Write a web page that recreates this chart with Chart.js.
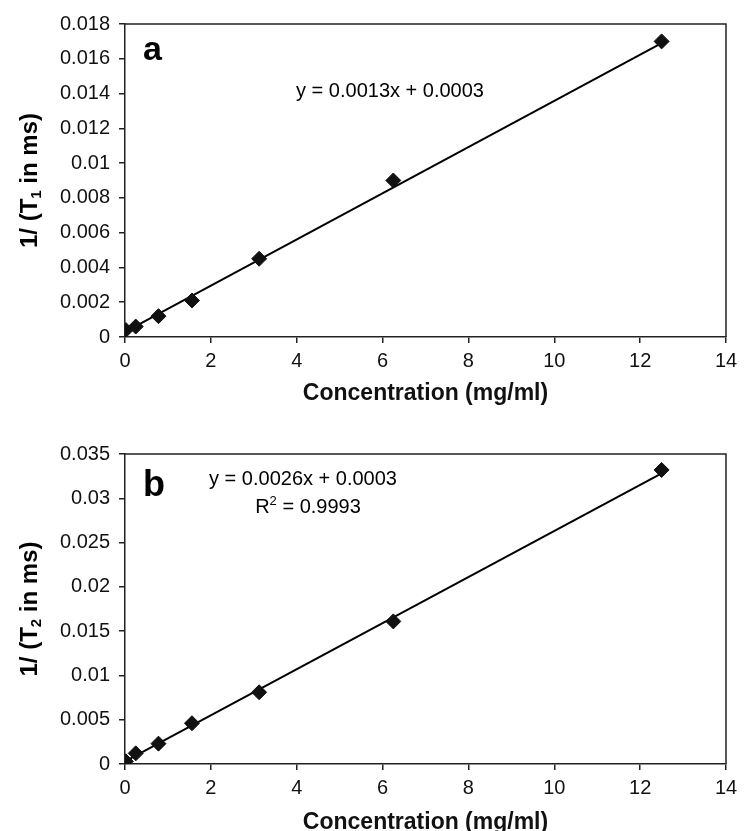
<!DOCTYPE html>
<html>
<head>
<meta charset="utf-8">
<script src="https://cdn.jsdelivr.net/npm/chart.js@4/dist/chart.umd.min.js"></script>
<style>
  html, body { margin: 0; padding: 0; background: #fff; }
  #wrapA { position: absolute; left: 0; top: 0; width: 750px; height: 415px; }
  #wrapB { position: absolute; left: 0; top: 415px; width: 750px; height: 416px; }
</style>
</head>
<body>
<div id="wrapA"><canvas id="chartA" width="750" height="415"></canvas></div>
<div id="wrapB"><canvas id="chartB" width="750" height="416"></canvas></div>
<script>
// ---- data ----
const concentrations = [0.02, 0.25, 0.78, 1.56, 3.125, 6.25, 12.5];
const invT1 = [0.0004, 0.0006, 0.0012, 0.0021, 0.0045, 0.009, 0.017];
const invT2 = [0.0003, 0.0012, 0.0023, 0.0046, 0.0081, 0.0161, 0.0332];
const fitX = [0, 12.5];
const fitT1 = [0.0003, 0.0169];
const fitT2 = [0.0003, 0.0328];
const xTicks = [0, 2, 4, 6, 8, 10, 12, 14];
const xTickLabels = ['0', '2', '4', '6', '8', '10', '12', '14'];
const yTicksA = [0, 0.002, 0.004, 0.006, 0.008, 0.01, 0.012, 0.014, 0.016, 0.018];
const yTickLabelsA = ['0', '0.002', '0.004', '0.006', '0.008', '0.01', '0.012', '0.014', '0.016', '0.018'];
const yTicksB = [0, 0.005, 0.01, 0.015, 0.02, 0.025, 0.03, 0.035];
const yTickLabelsB = ['0', '0.005', '0.01', '0.015', '0.02', '0.025', '0.03', '0.035'];
const xTitle = 'Concentration (mg/ml)';
const eqA = 'y = 0.0013x + 0.0003';
const eqB = 'y = 0.0026x + 0.0003';
const r2B = '0.9993';

const FONT = '"Liberation Sans", Arial, Helvetica, sans-serif';

function pts(xs, ys) { return xs.map((x, i) => ({ x: x, y: ys[i] })); }

function makeDecor(cfg) {
  return {
    id: 'decor' + cfg.letter,
    afterDraw(chart) {
      const ctx = chart.ctx;
      const a = chart.chartArea;
      ctx.save();
      // frame top & right
      ctx.strokeStyle = '#222';
      ctx.lineWidth = 1.5;
      ctx.beginPath();
      ctx.moveTo(a.left, a.top);
      ctx.lineTo(a.right, a.top);
      ctx.lineTo(a.right, a.bottom);
      ctx.stroke();
      // panel letter
      ctx.fillStyle = '#000';
      ctx.font = 'bold ' + cfg.letterSize + 'px ' + FONT;
      ctx.textAlign = 'left';
      ctx.textBaseline = 'alphabetic';
      ctx.fillText(cfg.letter, cfg.letterX, cfg.letterY);
      // equations
      ctx.font = '20px ' + FONT;
      ctx.textAlign = 'center';
      ctx.fillText(cfg.eq, cfg.eqX, cfg.eqY);
      if (cfg.r2) {
        const big = '20px ' + FONT, small = '13px ' + FONT;
        ctx.font = big;
        const wR = ctx.measureText('R').width;
        const wRest = ctx.measureText(' = ' + cfg.r2).width;
        ctx.font = small;
        const w2 = ctx.measureText('2').width;
        let x = cfg.r2X - (wR + w2 + wRest) / 2;
        ctx.textAlign = 'left';
        ctx.font = big;
        ctx.fillText('R', x, cfg.r2Y); x += wR;
        ctx.font = small;
        ctx.fillText('2', x, cfg.r2Y - 8); x += w2;
        ctx.font = big;
        ctx.fillText(' = ' + cfg.r2, x, cfg.r2Y);
      }
      // y title with subscript
      const cy = (a.top + a.bottom) / 2;
      ctx.translate(cfg.yTitleX, cy);
      ctx.rotate(-Math.PI / 2);
      const bigB = 'bold 24px ' + FONT, smallB = 'bold 15px ' + FONT;
      ctx.font = bigB;
      const p1 = '1/ (T', p3 = ' in ms)';
      const w1 = ctx.measureText(p1).width, w3 = ctx.measureText(p3).width;
      ctx.font = smallB;
      const wS = ctx.measureText(cfg.sub).width;
      let x = -(w1 + wS + w3) / 2;
      ctx.textAlign = 'left';
      ctx.font = bigB;
      ctx.fillText(p1, x, 0); x += w1;
      ctx.font = smallB;
      ctx.fillText(cfg.sub, x, 4); x += wS;
      ctx.font = bigB;
      ctx.fillText(p3, x, 0);
      ctx.restore();
    }
  };
}

function makeChart(canvasId, yVals, fitY, yTicks, yLabels, yMax, padTop, xHeight, titlePadBottom, titleLH, decor) {
  return new Chart(document.getElementById(canvasId), {
    type: 'scatter',
    data: {
      datasets: [
        {
          data: pts(concentrations, yVals),
          pointStyle: 'rectRot',
          pointRadius: 7.5,
          pointHoverRadius: 7.5,
          backgroundColor: '#111',
          borderColor: '#111',
          borderWidth: 1,
          showLine: false,
          order: 0
        },
        {
          data: pts(fitX, fitY),
          showLine: true,
          pointRadius: 0,
          borderColor: '#000',
          borderWidth: 2,
          fill: false,
          order: 1
        }
      ]
    },
    options: {
      responsive: false,
      animation: false,
      events: [],
      layout: { padding: { left: 0, top: padTop, right: 24, bottom: 0 } },
      plugins: { legend: { display: false }, tooltip: { enabled: false } },
      scales: {
        x: {
          type: 'linear',
          min: 0, max: 14,
          afterBuildTicks(s) { s.ticks = xTicks.map(v => ({ value: v })); },
          afterFit(s) { s.height = xHeight; },
          ticks: {
            color: '#111',
            font: { family: FONT, size: 20 },
            padding: 6,
            maxRotation: 0,
            callback: (v) => { const i = xTicks.indexOf(v); return i >= 0 ? xTickLabels[i] : ''; }
          },
          grid: { display: true, drawOnChartArea: false, drawTicks: true, tickLength: 6, color: '#222', lineWidth: 1.5 },
          border: { display: true, color: '#222', width: 1.5 },
          title: {
            display: true, text: xTitle, color: '#111',
            font: { family: FONT, size: 23, weight: 'bold', lineHeight: titleLH },
            padding: { top: 0, bottom: titlePadBottom }
          }
        },
        y: {
          type: 'linear',
          min: 0, max: yMax,
          afterBuildTicks(s) { s.ticks = yTicks.map(v => ({ value: v })); },
          afterFit(s) { s.width = 125; },
          ticks: {
            color: '#111',
            font: { family: FONT, size: 20 },
            padding: 9,
            callback: (v) => {
              let best = 0, bd = Infinity;
              yTicks.forEach((t, i) => { const d = Math.abs(t - v); if (d < bd) { bd = d; best = i; } });
              return yLabels[best];
            }
          },
          grid: { display: true, drawOnChartArea: false, drawTicks: true, tickLength: 6, color: '#222', lineWidth: 1.5 },
          border: { display: true, color: '#222', width: 1.5 }
        }
      }
    },
    plugins: [decor]
  });
}

makeChart('chartA', invT1, fitT1, yTicksA, yTickLabelsA, 0.018, 24, 78, 10, 1,
  makeDecor({ letter: 'a', letterSize: 34, letterX: 143, letterY: 60, eq: eqA, eqX: 390, eqY: 97, sub: '1', yTitleX: 37 }));

makeChart('chartB', invT2, fitT2, yTicksB, yTickLabelsB, 0.035, 39, 67, 0, 0.7,
  makeDecor({ letter: 'b', letterSize: 36, letterX: 143, letterY: 81, eq: eqB, eqX: 303, eqY: 70, r2: r2B, r2X: 308, r2Y: 98, sub: '2', yTitleX: 37 }));
</script>
</body>
</html>
